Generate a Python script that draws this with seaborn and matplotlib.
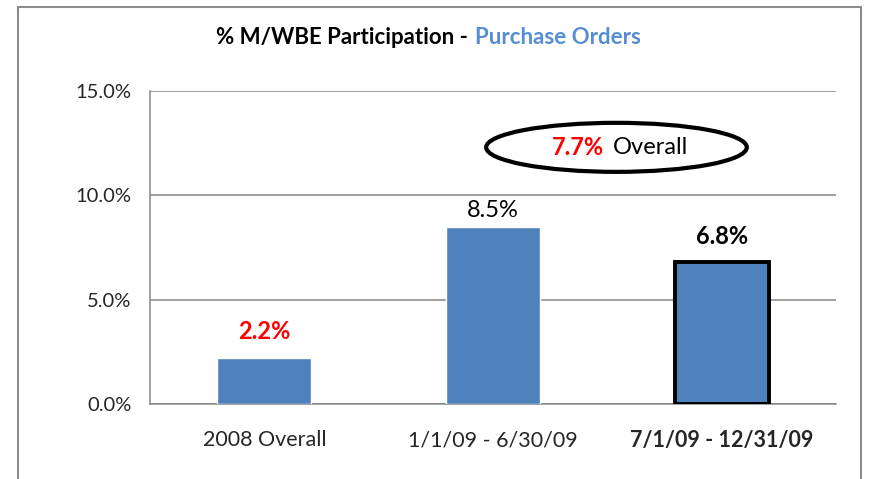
import matplotlib
matplotlib.use("Agg")
import matplotlib.pyplot as plt
import seaborn as sns
import pandas as pd
from matplotlib.patches import Ellipse, Rectangle

# Datos
periodos = ["2008 Overall", "1/1/09 - 6/30/09", "7/1/09 - 12/31/09"]
participacion = [2.2, 8.5, 6.8]
etiquetas = ["2.2%", "8.5%", "6.8%"]
total_texto = "7.7%"
total_valor = 7.7
yticks = [0, 5, 10, 15]

df = pd.DataFrame({"periodo": periodos, "pct": participacion})

sns.set_style("white")
plt.rcParams["font.family"] = ["Lato", "DejaVu Sans"]

fig = plt.figure(figsize=(8.71, 4.79), dpi=100)
ax = fig.add_axes([150 / 871, 1 - 404 / 479, 686 / 871, 313 / 479])

sns.barplot(data=df, x="periodo", y="pct", color="#4F81BD", saturation=1,
            width=0.41, ax=ax, zorder=3)

# Barra destacada con borde negro
ax.patches[2].set_edgecolor("black")
ax.patches[2].set_linewidth(2.8)

# Etiquetas de las barras (color, peso, separación en px)
estilos = [("red", "bold", 27), ("black", "normal", 16), ("black", "bold", 26)]
for i, (v, txt) in enumerate(zip(participacion, etiquetas)):
    c, w, off = estilos[i]
    ax.annotate(txt, (i, v), xytext=(0, off * 0.72), textcoords="offset points",
                ha="center", va="center", fontsize=17, color=c, fontweight=w)

# Ejes
ax.set_ylim(0, 15)
ax.set_xlim(-0.5, 2.5)
ax.set_yticks(yticks)
ax.set_yticklabels([f"{t:.1f}%" for t in yticks], fontsize=14.5)
ax.set_xlabel("")
ax.set_ylabel("")
ax.yaxis.grid(True, color="#868686", linewidth=1.1, zorder=0)
for s in ["top", "right"]:
    ax.spines[s].set_visible(False)
for s in ["left", "bottom"]:
    ax.spines[s].set_color("#868686")
    ax.spines[s].set_linewidth(1.1)
ax.tick_params(axis="y", length=4.5, color="#868686", width=1.1, pad=9)
ax.tick_params(axis="x", length=0, pad=19, labelsize=15.5)
for lbl in ax.get_xticklabels():
    if lbl.get_text() == periodos[2]:
        lbl.set_fontweight("bold")

# Óvalo con el total
ax.add_patch(Ellipse((1.54, 12.3), 1.14, 2.35, facecolor="white",
                     edgecolor="black", linewidth=3, zorder=4))
ax.text(1.485, 12.3, total_texto, ha="right", va="center", fontsize=17,
        color="red", fontweight="bold", zorder=5)
ax.text(1.525, 12.3, "Overall", ha="left", va="center", fontsize=17,
        color="black", zorder=5)

# Título en dos colores
fig.text(468 / 871, 1 - 38 / 479, "% M/WBE Participation -", ha="right",
         va="center", fontsize=16, fontweight="bold", color="black")
fig.text(475 / 871, 1 - 38 / 479, "Purchase Orders", ha="left",
         va="center", fontsize=16, fontweight="bold", color="#558ED5")

# Marco exterior
fig.patches.append(Rectangle((18 / 871, -0.05), 843 / 871, 1.05 - 7 / 479,
                             transform=fig.transFigure, fill=False,
                             edgecolor="#8C8C8C", linewidth=1.5))

fig.savefig("out.png", dpi=100)
